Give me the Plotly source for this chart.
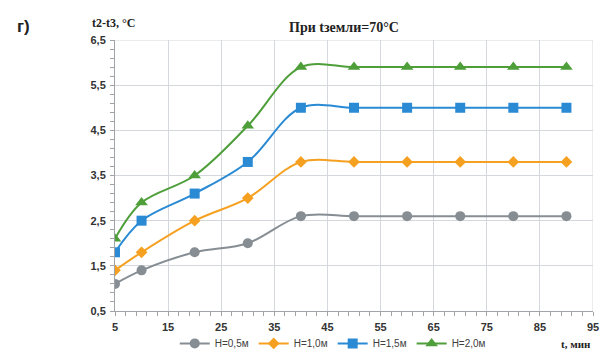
import plotly.graph_objects as go

t = [5, 10, 20, 30, 40, 50, 60, 70, 80, 90]
h05 = [1.1, 1.4, 1.8, 2.0, 2.6, 2.6, 2.6, 2.6, 2.6, 2.6]
h10 = [1.4, 1.8, 2.5, 3.0, 3.8, 3.8, 3.8, 3.8, 3.8, 3.8]
h15 = [1.8, 2.5, 3.1, 3.8, 5.0, 5.0, 5.0, 5.0, 5.0, 5.0]
h20 = [2.1, 2.9, 3.5, 4.6, 5.9, 5.9, 5.9, 5.9, 5.9, 5.9]
names = ["H=0,5м", "H=1,0м", "H=1,5м", "H=2,0м"]
x_ticks = [5, 15, 25, 35, 45, 55, 65, 75, 85, 95]
y_ticks = [0.5, 1.5, 2.5, 3.5, 4.5, 5.5, 6.5]
y_labels = ["0,5", "1,5", "2,5", "3,5", "4,5", "5,5", "6,5"]

series = [
    (h05, "#868e94", "circle", 10),
    (h10, "#f5a020", "diamond", 9),
    (h15, "#2a8ad4", "square", 10),
    (h20, "#4e9e3a", "triangle-up", 11),
]

fig = go.Figure()
for (vals, col, sym, sz), nm in zip(series, names):
    fig.add_trace(go.Scatter(
        x=t, y=vals, name=nm, mode="lines+markers",
        line=dict(color=col, width=2, shape="spline", smoothing=1.0),
        marker=dict(symbol=sym, size=sz, color=col),
    ))

tickfont = dict(family="Liberation Sans, Arial", size=11, color="#333333", weight="bold")

fig.update_layout(
    width=605, height=354,
    margin=dict(l=115, r=12, t=40, b=43, autoexpand=False),
    plot_bgcolor="white", paper_bgcolor="white",
    showlegend=True,
    legend=dict(orientation="h", xref="container", yref="container",
                x=0.55, xanchor="center", y=0.03, yanchor="middle",
                font=dict(family="Liberation Sans, Arial", size=10, color="#404040"),
                itemwidth=30, tracegroupgap=0, bgcolor="rgba(0,0,0,0)"),
    xaxis=dict(range=[5, 95], tickvals=x_ticks, ticktext=[str(v) for v in x_ticks],
               showgrid=True, gridcolor="#d4d8dc", gridwidth=1,
               showline=True, linecolor="#a0a4a8", linewidth=1,
               ticks="", zeroline=False, automargin=False,
               minor=dict(dtick=2, tick0=5, ticks="outside", ticklen=4, tickcolor="#a0a4a8", showgrid=False),
               tickfont=tickfont, ticklabelstandoff=6),
    yaxis=dict(range=[0.5, 6.5], tickvals=y_ticks, ticktext=y_labels,
               showgrid=True, gridcolor="#d4d8dc", gridwidth=1,
               showline=True, linecolor="#a0a4a8", linewidth=1,
               ticks="", zeroline=False, automargin=False,
               minor=dict(dtick=0.2, tick0=0.5, ticks="outside", ticklen=4, tickcolor="#a0a4a8", showgrid=False),
               tickfont=tickfont, ticklabelstandoff=6),
    shapes=[dict(type="line", xref="x", yref="y", x0=95, x1=95, y0=0.5, y1=6.5,
                 line=dict(color="#d4d8dc", width=1)),
            dict(type="line", xref="x", yref="y", x0=5, x1=95, y0=6.5, y1=6.5,
                 line=dict(color="#d4d8dc", width=1))],
    annotations=[
        dict(text="<b>г)</b>", xref="paper", yref="paper", x=-0.21, y=1.05, showarrow=False,
             xanchor="left", yanchor="middle",
             font=dict(family="Liberation Sans, Arial", size=17, color="#222222")),
        dict(text="<b>t2-t3, °C</b>", xref="paper", yref="paper", x=-0.052, y=1.062, showarrow=False,
             xanchor="left", yanchor="middle",
             font=dict(family="Liberation Serif, Times New Roman", size=12, color="#222222")),
        dict(text="<b>При tземли=70°C</b>", xref="paper", yref="paper", x=0.48, y=1.045, showarrow=False,
             xanchor="center", yanchor="middle",
             font=dict(family="Liberation Serif, Times New Roman", size=14, color="#222222")),
        dict(text="<b>t, мин</b>", xref="paper", yref="paper", x=1.0, y=-0.12, showarrow=False,
             xanchor="right", yanchor="middle",
             font=dict(family="Liberation Serif, Times New Roman", size=11, color="#222222")),
    ],
)

fig.write_html("out.html", config={"displayModeBar": False},
               post_script="document.body.style.margin='0';document.body.style.overflow='hidden';")
